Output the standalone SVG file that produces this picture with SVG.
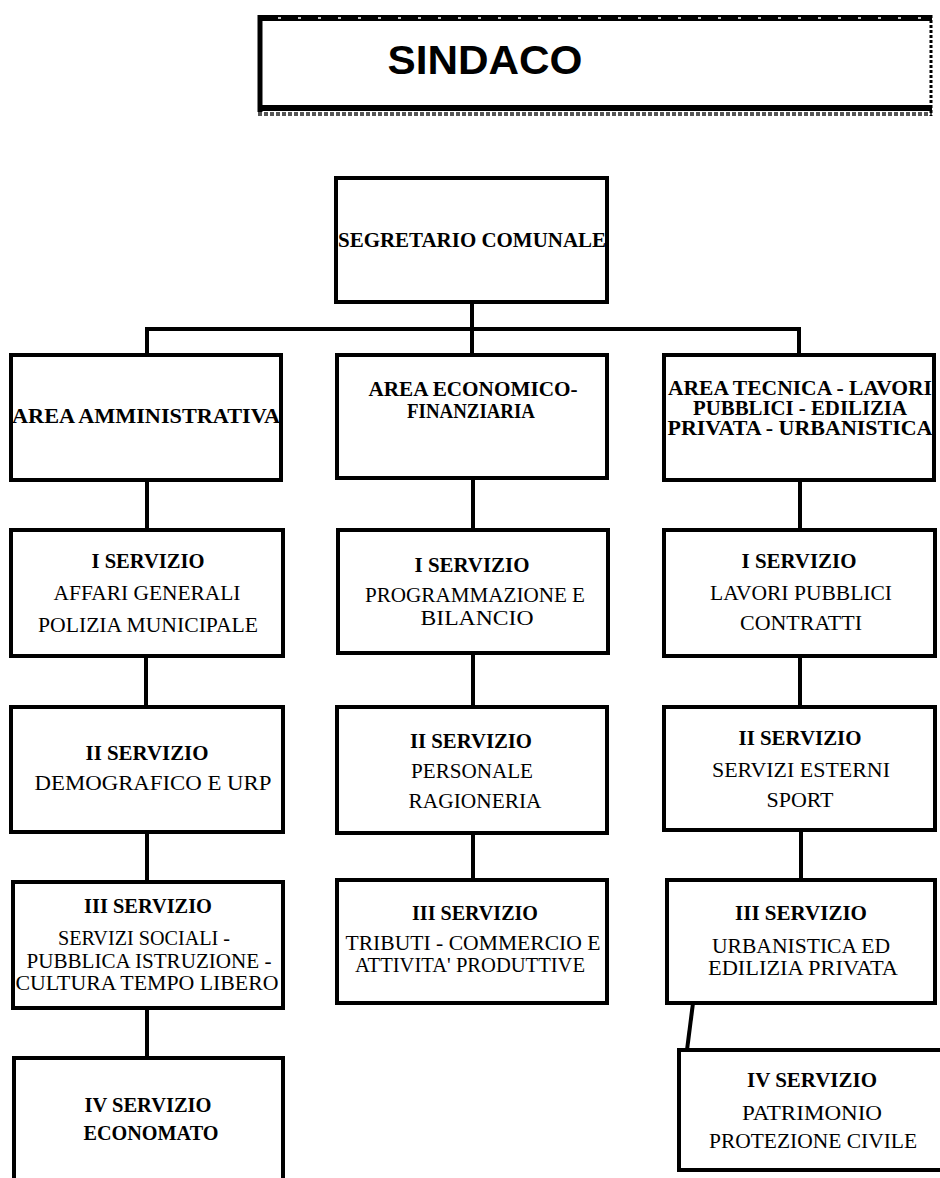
<svg xmlns="http://www.w3.org/2000/svg" width="940" height="1178" viewBox="0 0 940 1178">
<style>
.box{fill:#fff;stroke:#000;stroke-width:4}
.con{fill:none;stroke:#000;stroke-width:4}
text{font-family:"Liberation Serif","Times New Roman",serif;font-size:20px;fill:#000;text-anchor:middle}
.b{font-weight:bold}
.a{font-weight:bold;font-size:20.5px}
.t{font-family:"Liberation Sans",Arial,sans-serif;font-weight:bold;font-size:41px}
</style>
<rect width="940" height="1178" fill="#fff"/>
<g id="sindaco">
<rect x="258" y="18" width="674" height="91" fill="#fff" stroke="none"/>
<line x1="258" y1="18" x2="932" y2="18" stroke="#000" stroke-width="6"/>
<line x1="258" y1="18" x2="932" y2="18" stroke="#fff" stroke-width="1.5" stroke-dasharray="3 17"/>
<line x1="258" y1="108" x2="932" y2="108" stroke="#000" stroke-width="6"/>
<line x1="258" y1="114" x2="932" y2="114" stroke="#555" stroke-width="4" stroke-dasharray="4 2"/>
<line x1="260" y1="15" x2="260" y2="112" stroke="#000" stroke-width="5"/>
<line x1="931" y1="15" x2="931" y2="116" stroke="#000" stroke-width="3" stroke-dasharray="3 2"/>
<text class="t" x="485" y="74" textLength="195" lengthAdjust="spacingAndGlyphs">SINDACO</text>
</g>
<g id="connectors">
<line class="con" x1="472" y1="302" x2="472" y2="355"/>
<polyline class="con" points="147,355 147,329 799,329 799,355"/>
<line class="con" x1="147" y1="480" x2="147" y2="530"/>
<line class="con" x1="473" y1="478" x2="473" y2="530"/>
<line class="con" x1="800" y1="480" x2="800" y2="530"/>
<line class="con" x1="146" y1="656" x2="146" y2="707"/>
<line class="con" x1="473" y1="653" x2="473" y2="707"/>
<line class="con" x1="800" y1="656" x2="800" y2="707"/>
<line class="con" x1="147" y1="832" x2="147" y2="882"/>
<line class="con" x1="473" y1="833" x2="473" y2="880"/>
<line class="con" x1="801" y1="830" x2="801" y2="880"/>
<line class="con" x1="147" y1="1008" x2="147" y2="1058"/>
<line class="con" x1="693" y1="1003" x2="687" y2="1050"/>
</g>
<g id="segretario">
<rect class="box" x="336" y="178" width="271" height="124"/>
<text class="a" x="472" y="247" textLength="268" lengthAdjust="spacingAndGlyphs">SEGRETARIO COMUNALE</text>
</g>
<g id="area-amministrativa">
<rect class="box" x="11" y="355" width="270" height="125"/>
<text class="a" x="146" y="423" textLength="268" lengthAdjust="spacingAndGlyphs">AREA AMMINISTRATIVA</text>
</g>
<g id="area-economico">
<rect class="box" x="337" y="355" width="270" height="123"/>
<text class="a" x="473" y="396" textLength="209" lengthAdjust="spacingAndGlyphs">AREA ECONOMICO-</text>
<text class="a" x="471" y="418" textLength="128" lengthAdjust="spacingAndGlyphs">FINANZIARIA</text>
</g>
<g id="area-tecnica">
<rect class="box" x="664" y="355" width="270" height="125"/>
<text class="a" x="800" y="395" textLength="264" lengthAdjust="spacingAndGlyphs">AREA TECNICA - LAVORI</text>
<text class="a" x="800" y="415" textLength="214" lengthAdjust="spacingAndGlyphs">PUBBLICI - EDILIZIA</text>
<text class="a" x="800" y="435" textLength="265" lengthAdjust="spacingAndGlyphs">PRIVATA - URBANISTICA</text>
</g>
<g id="aa-1">
<rect class="box" x="11" y="530" width="272" height="126"/>
<text class="b" x="148" y="568" textLength="113" lengthAdjust="spacingAndGlyphs">I SERVIZIO</text>
<text x="147" y="600" textLength="187" lengthAdjust="spacingAndGlyphs">AFFARI GENERALI</text>
<text x="148" y="632" textLength="220" lengthAdjust="spacingAndGlyphs">POLIZIA MUNICIPALE</text>
</g>
<g id="aa-2">
<rect class="box" x="11" y="707" width="272" height="125"/>
<text class="b" x="147" y="760" textLength="123" lengthAdjust="spacingAndGlyphs">II SERVIZIO</text>
<text x="153" y="790" textLength="237" lengthAdjust="spacingAndGlyphs">DEMOGRAFICO E URP</text>
</g>
<g id="aa-3">
<rect class="box" x="13" y="882" width="270" height="126"/>
<text class="b" x="148" y="913" textLength="128" lengthAdjust="spacingAndGlyphs">III SERVIZIO</text>
<text x="144" y="945" textLength="172" lengthAdjust="spacingAndGlyphs">SERVIZI SOCIALI -</text>
<text x="149" y="968" textLength="245" lengthAdjust="spacingAndGlyphs">PUBBLICA ISTRUZIONE -</text>
<text x="147" y="990" textLength="263" lengthAdjust="spacingAndGlyphs">CULTURA TEMPO LIBERO</text>
</g>
<g id="aa-4">
<rect class="box" x="14" y="1058" width="269" height="140"/>
<text class="b" x="148" y="1112" textLength="127" lengthAdjust="spacingAndGlyphs">IV SERVIZIO</text>
<text class="b" x="151" y="1140" textLength="135" lengthAdjust="spacingAndGlyphs">ECONOMATO</text>
</g>
<g id="ae-1">
<rect class="box" x="338" y="530" width="270" height="123"/>
<text class="b" x="472" y="572" textLength="115" lengthAdjust="spacingAndGlyphs">I SERVIZIO</text>
<text x="475" y="602" textLength="220" lengthAdjust="spacingAndGlyphs">PROGRAMMAZIONE E</text>
<text x="477" y="625" textLength="113" lengthAdjust="spacingAndGlyphs">BILANCIO</text>
</g>
<g id="ae-2">
<rect class="box" x="337" y="707" width="270" height="126"/>
<text class="b" x="471" y="748" textLength="122" lengthAdjust="spacingAndGlyphs">II SERVIZIO</text>
<text x="472" y="778" textLength="122" lengthAdjust="spacingAndGlyphs">PERSONALE</text>
<text x="475" y="808" textLength="133" lengthAdjust="spacingAndGlyphs">RAGIONERIA</text>
</g>
<g id="ae-3">
<rect class="box" x="337" y="880" width="270" height="123"/>
<text class="b" x="475" y="920" textLength="126" lengthAdjust="spacingAndGlyphs">III SERVIZIO</text>
<text x="473" y="950" textLength="255" lengthAdjust="spacingAndGlyphs">TRIBUTI - COMMERCIO E</text>
<text x="470" y="972" textLength="230" lengthAdjust="spacingAndGlyphs">ATTIVITA' PRODUTTIVE</text>
</g>
<g id="at-1">
<rect class="box" x="664" y="530" width="271" height="126"/>
<text class="b" x="799" y="568" textLength="115" lengthAdjust="spacingAndGlyphs">I SERVIZIO</text>
<text x="801" y="600" textLength="182" lengthAdjust="spacingAndGlyphs">LAVORI PUBBLICI</text>
<text x="801" y="630" textLength="122" lengthAdjust="spacingAndGlyphs">CONTRATTI</text>
</g>
<g id="at-2">
<rect class="box" x="664" y="707" width="271" height="123"/>
<text class="b" x="800" y="745" textLength="123" lengthAdjust="spacingAndGlyphs">II SERVIZIO</text>
<text x="801" y="777" textLength="178" lengthAdjust="spacingAndGlyphs">SERVIZI ESTERNI</text>
<text x="800" y="807" textLength="67" lengthAdjust="spacingAndGlyphs">SPORT</text>
</g>
<g id="at-3">
<rect class="box" x="667" y="880" width="268" height="123"/>
<text class="b" x="801" y="920" textLength="132" lengthAdjust="spacingAndGlyphs">III SERVIZIO</text>
<text x="801" y="953" textLength="178" lengthAdjust="spacingAndGlyphs">URBANISTICA ED</text>
<text x="803" y="975" textLength="190" lengthAdjust="spacingAndGlyphs">EDILIZIA PRIVATA</text>
</g>
<g id="at-4">
<rect class="box" x="679" y="1050" width="280" height="120"/>
<text class="b" x="812" y="1087" textLength="130" lengthAdjust="spacingAndGlyphs">IV SERVIZIO</text>
<text x="812" y="1120" textLength="140" lengthAdjust="spacingAndGlyphs">PATRIMONIO</text>
<text x="813" y="1148" textLength="208" lengthAdjust="spacingAndGlyphs">PROTEZIONE CIVILE</text>
</g>
</svg>
